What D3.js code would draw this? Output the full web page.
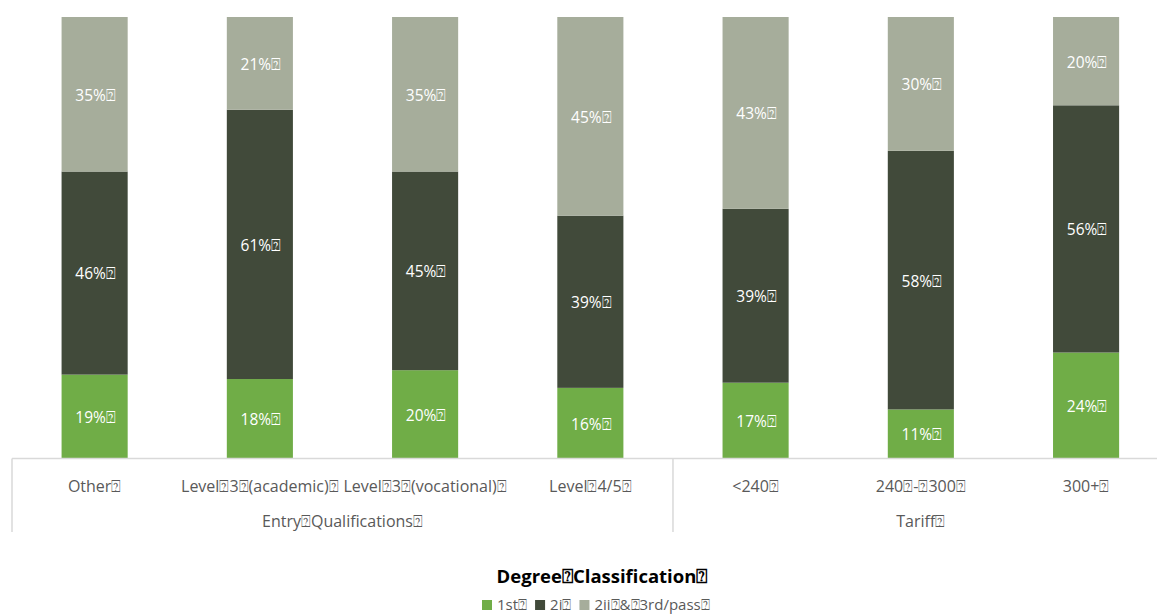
<!DOCTYPE html>
<html>
<head>
<meta charset="utf-8">
<script src="https://cdn.jsdelivr.net/npm/d3@7"></script>
<style>
  html, body { margin: 0; padding: 0; background: #fff; }
  svg { display: block; font-family: "Open Sans", "Liberation Sans", sans-serif; }
</style>
</head>
<body>
<svg id="chart" width="1157" height="615"></svg>
<script>
const Q = "\u2370";
const categories = ["Other", "Level 3 (academic)", "Level 3 (vocational)", "Level 4/5", "<240", "240 - 300", "300+"];
const groups = [
  { name: "Entry Qualifications", from: 0, to: 3 },
  { name: "Tariff", from: 4, to: 6 }
];
const seriesNames = ["1st", "2i", "2ii & 3rd/pass"];
const first = [19, 18, 20, 16, 17, 11, 24];
const upperSecond = [46, 61, 45, 39, 39, 58, 56];
const lowerSecondThird = [35, 21, 35, 45, 43, 30, 20];
const colors = ["#70ad47", "#414a3a", "#a6ad9b"];
const title = "Degree Classification";

(function () {
const svg = d3.select("#chart");
const W = 1157;
const plotTop = 17, plotBottom = 458.5;
const x = d3.scaleBand().domain(categories).range([12, 1168.7]).paddingInner(0.6).paddingOuter(0.3);
const y = d3.scaleLinear().domain([0, 1]).range([plotBottom, plotTop]);

const rows = categories.map((c, i) => ({ cat: c, s0: first[i], s1: upperSecond[i], s2: lowerSecondThird[i] }));
const stack = d3.stack().keys(["s0", "s1", "s2"]).offset(d3.stackOffsetExpand);
const stacked = stack(rows);

const gBars = svg.append("g");
const gLabels = svg.append("g");
stacked.forEach((layer, li) => {
  gBars.append("g").attr("fill", colors[li])
    .selectAll("rect").data(layer).join("rect")
    .attr("x", d => x(d.data.cat))
    .attr("width", x.bandwidth())
    .attr("y", d => y(d[1]))
    .attr("height", d => y(d[0]) - y(d[1]));
  gLabels.append("g").selectAll("text").data(layer).join("text")
    .attr("x", d => x(d.data.cat) + x.bandwidth() / 2 + 1)
    .attr("y", d => (y(d[0]) + y(d[1])) / 2 + 1)
    .attr("dy", "0.35em")
    .attr("text-anchor", "middle")
    .attr("fill", "#ffffff")
    .attr("font-size", 15.5)
    .text(d => d.data[layer.key] + "%" + Q);
});

const axisColor = "#d9d9d9";
svg.append("line").attr("x1", 12).attr("x2", W).attr("y1", plotBottom).attr("y2", plotBottom)
  .attr("stroke", axisColor).attr("stroke-width", 1.5);
const xAxis = d3.axisBottom(x).tickSize(0).tickPadding(0).tickFormat(d => d.split(" ").join(Q) + Q);
const ax = svg.append("g").attr("transform", `translate(0,${plotBottom})`).call(xAxis);
ax.select(".domain").remove();
ax.selectAll("text").attr("y", 28).attr("dy", "0.35em").attr("fill", "#595959")
  .attr("font-size", 16).attr("font-family", "'Open Sans', sans-serif");

const edge = i => x(categories[i]) - (x.step() - x.bandwidth()) / 2;
[0, 4].forEach(i => {
  svg.append("line").attr("x1", edge(i)).attr("x2", edge(i)).attr("y1", plotBottom).attr("y2", 532)
    .attr("stroke", axisColor).attr("stroke-width", 1.5);
});
groups.forEach(gr => {
  const x0 = edge(gr.from), x1 = edge(gr.to) + x.step();
  svg.append("text").attr("x", (x0 + x1) / 2).attr("y", 521).attr("dy", "0.35em")
    .attr("text-anchor", "middle").attr("fill", "#595959").attr("font-size", 16)
    .text(gr.name.split(" ").join(Q) + Q);
});

svg.append("text").attr("x", 602).attr("y", 577).attr("dy", "0.35em").attr("text-anchor", "middle")
  .attr("font-weight", "bold").attr("font-size", 18.5).attr("fill", "#000")
  .text(title.split(" ").join(Q) + Q);

const legend = svg.append("g");
let lx = 482;
seriesNames.forEach((n, i) => {
  const g = legend.append("g");
  g.append("rect").attr("x", lx).attr("y", 600).attr("width", 10).attr("height", 10).attr("fill", colors[i]);
  const t = g.append("text").attr("x", lx + 15).attr("y", 605).attr("dy", "0.35em")
    .attr("fill", "#595959").attr("font-size", 15).text(n.split(" ").join(Q) + Q);
  lx += 15 + t.node().getComputedTextLength() + 8;
});
})();
</script>
</body>
</html>
